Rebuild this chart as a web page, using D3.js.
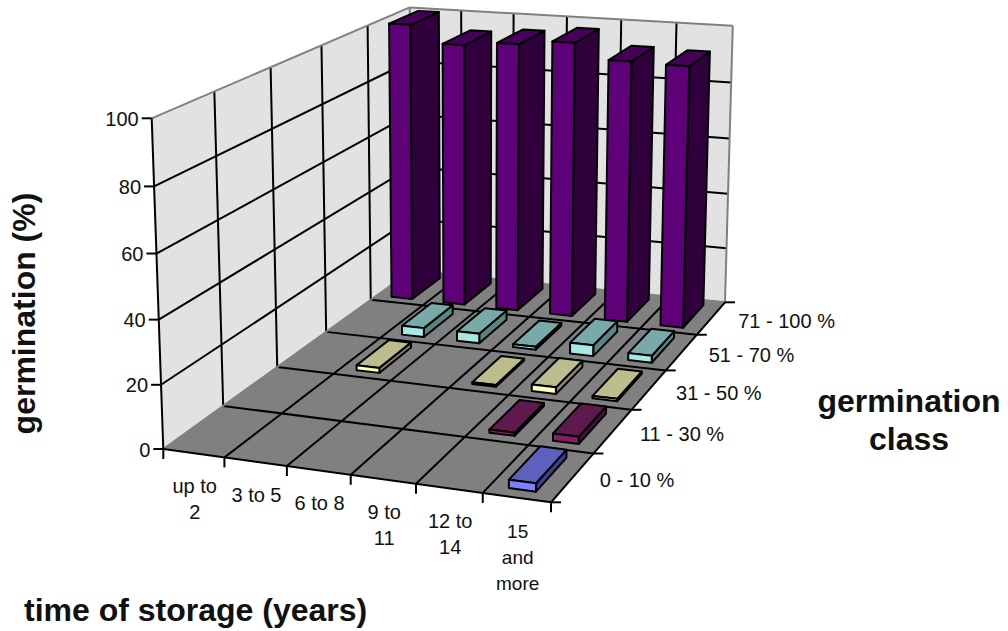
<!DOCTYPE html>
<html>
<head>
<meta charset="utf-8">
<script src="https://cdn.jsdelivr.net/npm/d3@7"></script>
<style>
  body { margin: 0; background: #fff; }
  text { font-family: "Liberation Sans", Arial, sans-serif; fill: #111; }
</style>
</head>
<body>
<div id="chart"></div>
<script>
// time of storage, front axis
var categories = ["up to 2", "3 to 5", "6 to 8", "9 to 11", "12 to 14", "15 and more"];
var categoryLines = [["up to", "2"], ["3 to 5"], ["6 to 8"], ["9 to", "11"], ["12 to", "14"], ["15", "and", "more"]];
// germination class, depth axis, front to back
var classes = ["0 - 10 %", "11 - 30 %", "31 - 50 %", "51 - 70 %", "71 - 100 %"];
// germination (%) per time of storage
var class0to10 = [0, 0, 0, 0, 0, 2.5];
var class11to30 = [0, 0, 0, 0, 1, 2.3];
var class31to50 = [0, 1.7, 0, 0.6, 2.2, 0.8];
var class51to70 = [0, 3.2, 3.4, 1, 3.8, 2.4];
var class71to100 = [100, 94, 95.5, 97.2, 92, 91.6];
var zTicks = [0, 20, 40, 60, 80, 100];

var width = 1008, height = 631;
var seriesValues = [class0to10, class11to30, class31to50, class51to70, class71to100];

// corners of the box on screen, the whole perspective comes out of these
var floorFL = [163.3, 449], floorFR = [551, 502.3], floorBR = [725, 302.3], floorBL = [411.5, 270.5];
var topFLy = 118.3;
var vanishing = [472.9, 9274]; // where the verticals meet, far below the page

// unit square to floor quad (Heckbert)
function squareToQuad(p0, p1, p2, p3) {
  var dx1 = p1[0] - p2[0], dx2 = p3[0] - p2[0], sx = p0[0] - p1[0] + p2[0] - p3[0];
  var dy1 = p1[1] - p2[1], dy2 = p3[1] - p2[1], sy = p0[1] - p1[1] + p2[1] - p3[1];
  var den = dx1 * dy2 - dx2 * dy1;
  var g = (sx * dy2 - dx2 * sy) / den, h = (dx1 * sy - sx * dy1) / den;
  return [
    [p1[0] - p0[0] + g * p1[0], p3[0] - p0[0] + h * p3[0], p0[0]],
    [p1[1] - p0[1] + g * p1[1], p3[1] - p0[1] + h * p3[1], p0[1]],
    [g, h, 1]
  ];
}
var H = squareToQuad(floorFL, floorFR, floorBR, floorBL);
var k = (H[1][2] - topFLy * H[2][2]) / (topFLy - vanishing[1]);

// u along time, v into the depth, w up, all 0..1
function project(u, v, w) {
  var xh = H[0][0] * u + H[0][1] * v + H[0][2] + k * vanishing[0] * w;
  var yh = H[1][0] * u + H[1][1] * v + H[1][2] + k * vanishing[1] * w;
  var wh = H[2][0] * u + H[2][1] * v + H[2][2] + k * w;
  return [xh / wh, yh / wh];
}

var xCell = d3.scaleBand().domain(categories).range([0, 1]);
var yCell = d3.scaleBand().domain(classes).range([0, 1]);
var xBar = d3.scaleBand().domain(categories).range([0, 1]).paddingInner(0.6).paddingOuter(0.3).align(0.47);
var yBar = d3.scaleBand().domain(classes).range([0, 1]).paddingInner(0.3).paddingOuter(0.15);
var zScale = d3.scaleLinear().domain([0, 100]).range([0, 1]);

var xEdges = categories.map(function(c) { return xCell(c); }).concat(1);
var yEdges = classes.map(function(c) { return yCell(c); }).concat(1);

var classColors = [
  { front: "#7f7fff", top: "#5f60bd", side: "#3f3f8c" },
  { front: "#8a1a6a", top: "#5e1a4e", side: "#40123a" },
  { front: "#ffffbb", top: "#bcbc8c", side: "#8c8c6e" },
  { front: "#a4e8e8", top: "#78aaaa", side: "#5a8585" },
  { front: "#5e0078", top: "#46005a", side: "#2f003c" }
];

var svg = d3.select("#chart").append("svg")
  .attr("width", width).attr("height", height);

var poly = d3.line().curve(d3.curveLinearClosed);

function face(g, pts, fill, stroke, sw) {
  return g.append("path").attr("d", poly(pts)).attr("fill", fill)
    .attr("stroke", stroke || "none").attr("stroke-width", sw || 0)
    .attr("stroke-linejoin", "round");
}
function seg(g, a, b, color, sw) {
  g.append("line").attr("x1", a[0]).attr("y1", a[1]).attr("x2", b[0]).attr("y2", b[1])
    .attr("stroke", color).attr("stroke-width", sw);
}

// walls and floor
var box = svg.append("g");
face(box, [project(0, 0, 0), project(0, 1, 0), project(0, 1, 1), project(0, 0, 1)], "#e2e2e2");
face(box, [project(0, 1, 0), project(1, 1, 0), project(1, 1, 1), project(0, 1, 1)], "#e2e2e2");
face(box, [project(0, 0, 0), project(1, 0, 0), project(1, 1, 0), project(0, 1, 0)], "#808080");

// grid
zTicks.slice(1, -1).forEach(function(t) {
  var w = zScale(t);
  seg(box, project(0, 0, w), project(0, 1, w), "#000", 2);
  seg(box, project(0, 1, w), project(1, 1, w), "#000", 2);
});
yEdges.slice(1, -1).forEach(function(v) {
  seg(box, project(0, v, 0), project(0, v, 1), "#000", 2);
  seg(box, project(0, v, 0), project(1, v, 0), "#000", 2);
});
xEdges.slice(1, -1).forEach(function(u) {
  seg(box, project(u, 1, 0), project(u, 1, 1), "#000", 2);
  seg(box, project(u, 0, 0), project(u, 1, 0), "#000", 2);
});

// gray outer edge of the walls
[[[0, 0, 0], [0, 1, 0]], [[0, 1, 0], [1, 1, 0]], [[0, 0, 1], [0, 1, 1]], [[0, 1, 1], [1, 1, 1]], [[1, 1, 1], [1, 1, 0]], [[0, 1, 0], [0, 1, 1]]]
  .forEach(function(e) {
    seg(box, project.apply(null, e[0]), project.apply(null, e[1]), "#808080", 2);
  });

// axes, black on top of the gray
seg(box, project(0, 0, 0), project(0, 0, 1), "#000", 2);
seg(box, project(0, 0, 0), project(1, 0, 0), "#000", 2);
seg(box, project(1, 0, 0), project(1, 1, 0), "#000", 2);

var axisG = svg.append("g");
zTicks.forEach(function(t) {
  var p = project(0, 0, zScale(t));
  seg(axisG, [p[0] - 10, p[1]], p, "#000", 2);
  axisG.append("text").attr("x", p[0] - 13).attr("y", p[1] + 7.5)
    .attr("text-anchor", "end").attr("font-size", 20).text(t);
});
xEdges.forEach(function(u) {
  var p = project(u, 0, 0);
  seg(axisG, p, [p[0], p[1] + 10], "#000", 2);
});
yEdges.forEach(function(v) {
  var p = project(1, v, 0);
  seg(axisG, p, [p[0] + 10, p[1]], "#000", 2);
});
categories.forEach(function(c, i) {
  var p = project(xCell(c) + xCell.bandwidth() / 2, 0, 0);
  var t = axisG.append("text").attr("text-anchor", "middle").attr("font-size", categoryLines[i].length > 2 ? 19 : 20);
  categoryLines[i].forEach(function(line, j) {
    t.append("tspan").attr("x", p[0] + 1).attr("y", p[1] + 40 + j * 26).text(line);
  });
});
classes.forEach(function(c) {
  var p = project(1, yCell(c) + yCell.bandwidth() / 2, 0);
  axisG.append("text").attr("x", p[0] + 27).attr("y", p[1] + 10).attr("font-size", 20).text(c);
});

// bars, back row first
var bars = svg.append("g");
d3.range(classes.length - 1, -1, -1).forEach(function(r) {
  var c = classes[r], col = classColors[r];
  categories.forEach(function(cat, i) {
    var val = seriesValues[r][i];
    if (!val) return;
    var u0 = xBar(cat), u1 = u0 + xBar.bandwidth();
    var v0 = yBar(c), v1 = v0 + yBar.bandwidth();
    var w = zScale(val);
    face(bars, [project(u1, v0, 0), project(u1, v1, 0), project(u1, v1, w), project(u1, v0, w)], col.side, "#000", 2);
    face(bars, [project(u0, v0, w), project(u1, v0, w), project(u1, v1, w), project(u0, v1, w)], col.top, "#000", 2);
    face(bars, [project(u0, v0, 0), project(u1, v0, 0), project(u1, v0, w), project(u0, v0, w)], col.front, "#000", 2);
  });
});

// axis titles
var titles = svg.append("g").attr("font-weight", "bold").attr("font-size", 32);
titles.append("text").attr("x", 24).attr("y", 621).text("time of storage (years)");
titles.append("text").attr("text-anchor", "middle").attr("x", 909).attr("y", 412).text("germination");
titles.append("text").attr("text-anchor", "middle").attr("x", 909).attr("y", 450).text("class");
titles.append("text").attr("text-anchor", "middle")
  .attr("transform", "translate(35,313.5) rotate(-90)").text("germination (%)");
</script>
</body>
</html>
